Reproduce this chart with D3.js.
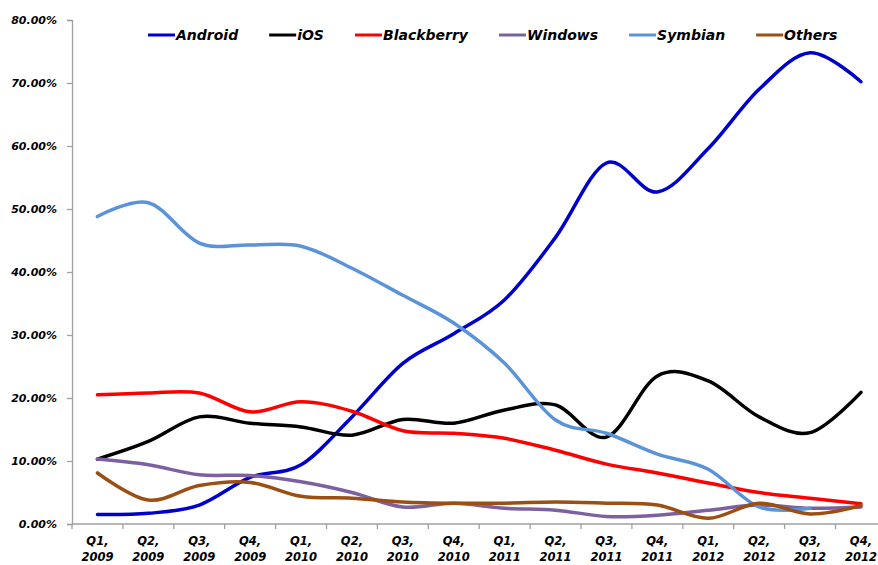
<!DOCTYPE html>
<html>
<head>
<meta charset="utf-8">
<script src="https://cdn.jsdelivr.net/npm/d3@7"></script>
<style>
  body { margin: 0; background: #fff; }
  svg { display: block; font-family: "DejaVu Sans", Verdana, sans-serif; }
  .lbl { font-weight: bold; font-style: italic; fill: #000; }
</style>
</head>
<body>
<svg id="chart" width="878" height="565"></svg>
<script>
// quarters on the x axis
const quarters = ['Q1, 2009', 'Q2, 2009', 'Q3, 2009', 'Q4, 2009',
  'Q1, 2010', 'Q2, 2010', 'Q3, 2010', 'Q4, 2010',
  'Q1, 2011', 'Q2, 2011', 'Q3, 2011', 'Q4, 2011',
  'Q1, 2012', 'Q2, 2012', 'Q3, 2012', 'Q4, 2012'];

// market share, percent
const android = [1.5, 1.7, 3.0, 7.4, 9.4, 17.0, 25.5, 30.2, 35.6, 45.5, 57.3, 52.7, 59.6, 69.0, 74.8, 70.2];
const ios = [10.3, 13.1, 17.0, 16.0, 15.4, 14.1, 16.6, 16.0, 18.1, 18.9, 13.8, 23.5, 22.7, 17.0, 14.5, 20.9];
const blackberry = [20.5, 20.8, 20.8, 17.8, 19.4, 17.9, 14.8, 14.4, 13.6, 11.7, 9.5, 8.1, 6.5, 5.0, 4.1, 3.2];
const windows = [10.3, 9.4, 7.8, 7.7, 6.7, 5.0, 2.7, 3.3, 2.5, 2.2, 1.2, 1.4, 2.2, 3.0, 2.5, 2.7];
const symbian = [48.8, 51.0, 44.6, 44.3, 44.1, 40.6, 36.3, 31.9, 25.5, 16.5, 14.4, 11.1, 8.7, 2.7, 2.5, null];
const others = [8.1, 3.8, 6.1, 6.6, 4.4, 4.1, 3.5, 3.3, 3.3, 3.5, 3.3, 3.0, 0.9, 3.3, 1.6, 2.9];

const seriesNames = ['Android', 'iOS', 'Blackberry', 'Windows', 'Symbian', 'Others'];
const seriesValues = [android, ios, blackberry, windows, symbian, others];
const seriesColors = ['#0000cc', '#000000', '#ff0000', '#7d60a0', '#5b93d8', '#9c4f12'];

const yTicks = [0, 10, 20, 30, 40, 50, 60, 70, 80];

const margin = { top: 20, left: 72, bottom: 41 };
const svg = d3.select('#chart');
const height = +svg.attr('height');

const x = d3.scaleBand()
  .domain(quarters)
  .range([margin.left, margin.left + 16 * 50.9]);

const y = d3.scaleLinear()
  .domain([0, 80])
  .range([height - margin.bottom, margin.top]);

const cx = (q) => x(q) + x.bandwidth() / 2;

// y axis
const yAxis = svg.append('g')
  .attr('transform', `translate(${margin.left},0)`)
  .call(d3.axisLeft(y).tickValues(yTicks).tickSize(5).tickPadding(10)
    .tickFormat((d) => d.toFixed(2) + '%'));
yAxis.selectAll('path, line').attr('stroke', '#a0a0a0').attr('stroke-width', 1.3);
yAxis.selectAll('text').attr('class', 'lbl').attr('font-size', 11)
  .attr('font-family', '"DejaVu Sans", Verdana, sans-serif');

// x axis line with ticks between categories
const xg = svg.append('g');
xg.append('line')
  .attr('x1', margin.left).attr('x2', 878)
  .attr('y1', y(0)).attr('y2', y(0))
  .attr('stroke', '#a0a0a0').attr('stroke-width', 1.3);
xg.selectAll('.tk')
  .data(quarters)
  .join('line')
  .attr('class', 'tk')
  .attr('x1', (d) => x(d)).attr('x2', (d) => x(d))
  .attr('y1', y(0)).attr('y2', y(0) + 5)
  .attr('stroke', '#a0a0a0').attr('stroke-width', 1.3);

const xl = xg.selectAll('.xl')
  .data(quarters)
  .join('text')
  .attr('class', 'lbl xl')
  .attr('font-size', 11.5)
  .attr('text-anchor', 'middle');
xl.append('tspan')
  .attr('x', (d) => cx(d)).attr('y', 545)
  .text((d) => d.split(' ')[0]);
xl.append('tspan')
  .attr('x', (d) => cx(d)).attr('y', 561)
  .text((d) => d.split(' ')[1]);

// smoothed lines, like the spreadsheet's smoothed line option
const line = d3.line()
  .defined((d) => d != null)
  .x((d, i) => cx(quarters[i]))
  .y((d) => y(d))
  .curve(d3.curveCatmullRom.alpha(0));

svg.append('g')
  .selectAll('path')
  .data(seriesValues)
  .join('path')
  .attr('d', (d) => line(d))
  .attr('fill', 'none')
  .attr('stroke', (d, i) => seriesColors[i])
  .attr('stroke-width', 3.5)
  .attr('stroke-linejoin', 'round')
  .attr('stroke-linecap', 'round');

// legend across the top
const legend = svg.append('g');
let lx = 148;
seriesNames.forEach((name, i) => {
  legend.append('line')
    .attr('x1', lx).attr('x2', lx + 27)
    .attr('y1', 35).attr('y2', 35)
    .attr('stroke', seriesColors[i]).attr('stroke-width', 3);
  const t = legend.append('text')
    .attr('class', 'lbl')
    .attr('x', lx + 28).attr('y', 40)
    .attr('font-size', 14)
    .text(name);
  lx += 28 + t.node().getComputedTextLength() + 31;
});
</script>
</body>
</html>
